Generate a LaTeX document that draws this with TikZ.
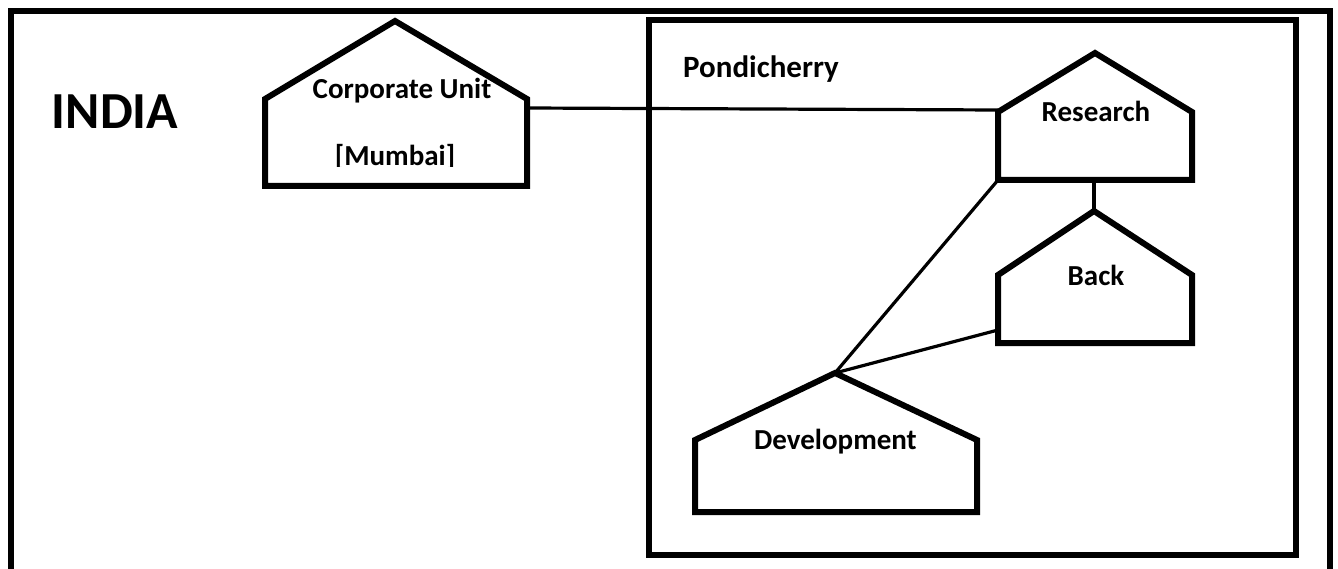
\documentclass[tikz,border=0pt]{standalone}
\usepackage{fontspec}
\setmainfont{Carlito}
\begin{document}
\begin{tikzpicture}[x=1pt,y=-1pt,
  house/.style={line width=6pt, line join=miter},
  frame/.style={line width=6.5pt},
  link/.style={line width=3.2pt},
  lbl/.style={font=\bfseries\fontsize{29}{34}\selectfont, inner sep=0pt, anchor=base},
  big/.style={font=\bfseries\fontsize{52}{60}\selectfont, inner sep=0pt, anchor=base}]
\useasboundingbox (0,0) rectangle (1338,569);
\fill[white] (0,0) rectangle (1338,569);
\clip (0,0) rectangle (1338,569);
% frames
\draw[frame] (11,600) -- (11,11) -- (1330,11) -- (1330,600);
\draw[frame] (649,20) rectangle (1296,555);
% houses
\draw[house] (265,186) -- (265,99) -- (395,21) -- (527,99) -- (527,186) -- cycle;
\draw[house] (998,180) -- (998,112) -- (1095,53) -- (1192,112) -- (1192,180) -- cycle;
\draw[house] (998,343) -- (998,275) -- (1094,211) -- (1192,275) -- (1192,343) -- cycle;
\draw[house] (695,512) -- (695,440) -- (835,373) -- (977,440) -- (977,512) -- cycle;
% anchor points
\coordinate (cu-e) at (527,108);
\coordinate (rs-w) at (998,110);
\coordinate (rs-s) at (1094,180);
\coordinate (rs-sw) at (998,180);
\coordinate (bk-n) at (1094,211);
\coordinate (bk-w) at (998,330);
\coordinate (dv-n) at (835,373);
% connectors
\draw[link] (cu-e) -- (rs-w);
\draw[link] (rs-s) -- (bk-n);
\draw[link] (rs-sw) -- (dv-n);
\draw[link] (bk-w) -- (dv-n);
% labels
\node[big] (india) at (115,129) {INDIA};
\node[lbl, anchor=base west, font=\bfseries\fontsize{31}{36}\selectfont] (pond) at (683,78) {Pondicherry};
\node[lbl] (cu) at (402,99) {Corporate Unit};
\begin{scope}
  \clip (300,130) rectangle (500,167);
  \node[lbl] (mum) at (395,166) {[Mumbai]};
\end{scope}
\node[lbl] (rs) at (1096,122) {Research};
\node[lbl] (bk) at (1096,286) {Back};
\node[lbl] (dv) at (835.5,449) {Development};
\end{tikzpicture}
\end{document}
